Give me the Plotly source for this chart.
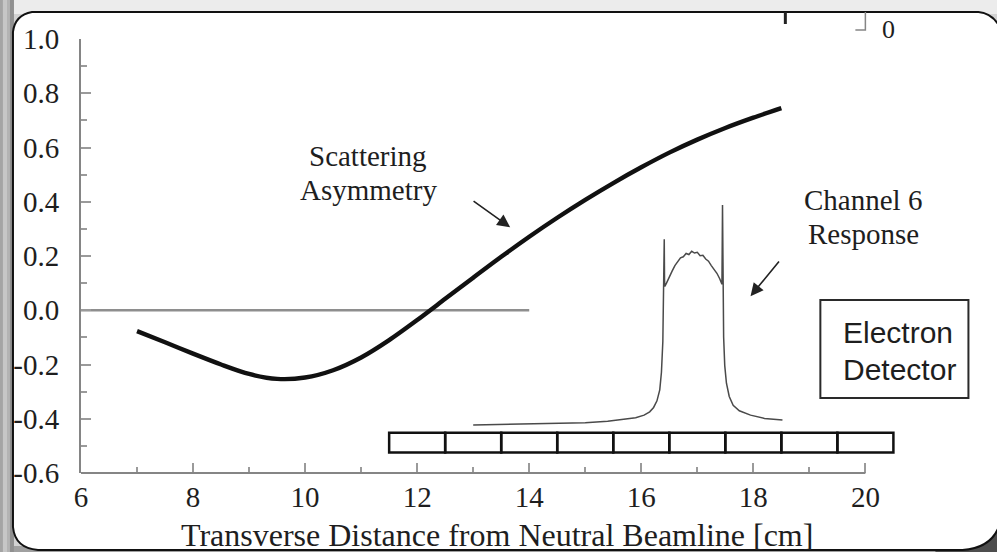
import plotly.graph_objects as go

# ---- data -------------------------------------------------------------
# Scattering asymmetry versus transverse distance (cm)
asym_x = [7.0, 7.5, 8.0, 8.5, 9.0, 9.5, 10.0, 10.5, 11.0, 11.5, 12.0, 12.5,
          13.0, 13.5, 14.0, 14.5, 15.0, 15.5, 16.0, 16.5, 17.0, 17.5, 18.0, 18.5]
asym_y = [-0.077, -0.118, -0.160, -0.200, -0.235, -0.253, -0.248, -0.221,
          -0.174, -0.110, -0.036, 0.042, 0.120, 0.197, 0.271, 0.341, 0.407,
          0.469, 0.527, 0.581, 0.629, 0.672, 0.710, 0.745]

# Channel 6 response (arbitrary units, baseline 0, highest edge peak 1)
resp_x = [13.0, 13.5, 14.0, 14.5, 15.0, 15.4, 15.7, 15.9, 16.05, 16.15, 16.22,
          16.28, 16.33, 16.36, 16.385, 16.40, 16.41, 16.415, 16.42, 16.45, 16.5,
          16.55, 16.6, 16.65, 16.7, 16.75, 16.8, 16.85, 16.9, 16.95, 17.0, 17.05,
          17.1, 17.15, 17.2, 17.25, 17.3, 17.35, 17.4, 17.44, 17.45, 17.455,
          17.46, 17.47, 17.49, 17.52, 17.57, 17.64, 17.75, 17.95, 18.2, 18.52]
resp_y = [0.0, 0.002, 0.004, 0.007, 0.011, 0.017, 0.025, 0.033, 0.045, 0.06, 0.08,
          0.11, 0.16, 0.24, 0.38, 0.58, 0.845, 0.66, 0.63, 0.645, 0.675,
          0.70, 0.725, 0.74, 0.76, 0.765, 0.78, 0.775, 0.79, 0.782, 0.785, 0.77,
          0.772, 0.755, 0.745, 0.725, 0.71, 0.69, 0.665, 0.64, 1.0, 0.62,
          0.52, 0.40, 0.27, 0.19, 0.13, 0.09, 0.065, 0.045, 0.03, 0.023]

# Electron detector channel boundaries (cm)
channel_edges = [11.5, 12.5, 13.5, 14.5, 15.5, 16.5, 17.5, 18.5, 19.5, 20.5]

x_ticks = [6, 8, 10, 12, 14, 16, 18, 20]
x_minor = [7, 9, 11, 13, 15, 17, 19]
y_ticks = [-0.6, -0.4, -0.2, 0.0, 0.2, 0.4, 0.6, 0.8, 1.0]
y_labels = ["-0.6", "-0.4", "-0.2", "0.0", "0.2", "0.4", "0.6", "0.8", "1.0"]
y_minor = [-0.5, -0.3, -0.1, 0.1, 0.3, 0.5, 0.7, 0.9]

# ---- layout geometry ----------------------------------------------------
W, H = 997, 552
ML, MT, MB = 81, 39, 79
X_RANGE = [6, 20.6]
Y_RANGE = [-0.6, 1.0]
PW = 56 * (X_RANGE[1] - X_RANGE[0])
PH = H - MT - MB
MR = W - ML - PW


def px(xp):
    return (xp - ML) / PW


def py(yp):
    return (H - MB - yp) / PH


def P(xp, yp):
    return f"{px(xp):.5f},{py(yp):.5f}"


SERIF = "Liberation Serif, Times New Roman, serif"
SANS = "Liberation Sans, Arial, sans-serif"
INK = "#1e1e1e"
AXIS = "#858585"

fig = go.Figure()

fig.add_trace(go.Scatter(x=[6, 14], y=[0, 0], mode="lines",
                         line=dict(color="#8e8e8e", width=2.5), hoverinfo="skip"))
fig.add_trace(go.Scatter(x=asym_x, y=asym_y, mode="lines",
                         line=dict(color="#111111", width=4.4, shape="spline",
                                   smoothing=0.8), hoverinfo="skip"))
fig.add_trace(go.Scatter(x=resp_x, y=resp_y, yaxis="y2", mode="lines",
                         line=dict(color="#4a4a4a", width=1.5), hoverinfo="skip"))

shapes = []
# page backdrop around the rounded panel
shapes.append(dict(type="rect", xref="paper", yref="paper", layer="below",
                   x0=px(0), x1=px(W), y0=py(0), y1=py(14),
                   fillcolor="#ececec", line=dict(width=0)))
for x0, x1, c in [(0, 3, "#a4a4a4"), (3, 7, "#c6c6c6"), (7, 10, "#b3b3b3"),
                  (10, 14, "#909090")]:
    shapes.append(dict(type="rect", xref="paper", yref="paper", layer="below",
                       x0=px(x0), x1=px(x1), y0=py(0), y1=py(H),
                       fillcolor=c, line=dict(width=0)))
shapes.append(dict(type="rect", xref="paper", yref="paper", layer="below",
                   x0=px(14), x1=px(W), y0=py(546), y1=py(H),
                   fillcolor="#a0a0a0", line=dict(width=0)))
shapes.append(dict(type="rect", xref="paper", yref="paper", layer="below",
                   x0=px(935), x1=px(W), y0=py(505), y1=py(H),
                   fillcolor="#4d4d4d", line=dict(width=0)))
panel = (f"M {P(13,32)} Q {P(15,15)} {P(32,12)} L {P(978,12)} "
         f"Q {P(992,13)} {P(1000,28)} L {P(1000,522)} "
         f"Q {P(993,548)} {P(962,550)} L {P(38,550)} Q {P(15,548)} {P(13,527)} Z")
shapes.append(dict(type="path", xref="paper", yref="paper", layer="below",
                   path=panel, fillcolor="white", line=dict(color="#111111", width=2)))

# x axis line only up to 20 cm
shapes.append(dict(type="line", xref="x", yref="paper", x0=6, x1=20, y0=0, y1=0,
                   line=dict(color=AXIS, width=2)))

# detector channels
for a, b in zip(channel_edges[:-1], channel_edges[1:]):
    shapes.append(dict(type="rect", xref="x", yref="y", x0=a, x1=b,
                       y0=-0.524, y1=-0.452, line=dict(color="#111111", width=2.5)))

# Electron Detector box
shapes.append(dict(type="rect", xref="paper", yref="paper",
                   x0=px(820), x1=px(968), y0=py(398), y1=py(300),
                   line=dict(color="#2a2a2a", width=2)))

# fragments of the neighbouring frame at the top edge
shapes.append(dict(type="line", xref="paper", yref="paper",
                   x0=px(785), x1=px(785), y0=py(12), y1=py(24),
                   line=dict(color="#222222", width=3)))
shapes.append(dict(type="path", xref="paper", yref="paper",
                   path=f"M {P(865,12)} L {P(865,30)} L {P(855,30)}",
                   line=dict(color=AXIS, width=1.5)))


def label(x, y, text, family, size, xanchor="center"):
    return dict(xref="paper", yref="paper", x=px(x), y=py(y), text=text,
                showarrow=False, xanchor=xanchor, yanchor="middle",
                font=dict(family=family, size=size, color=INK))


annotations = [
    label(888, 30, "0", SERIF, 26),
    label(497, 535, "Transverse Distance from Neutral Beamline [cm]", SERIF, 32),
    label(368, 156, "Scattering", SERIF, 29),
    label(368, 190, "Asymmetry", SERIF, 29),
    label(863, 200, "Channel 6", SERIF, 29),
    label(863, 234, "Response", SERIF, 29),
    label(841, 332, "Electron", SANS, 30, xanchor="left"),
    label(841, 369, "Detector", SANS, 30, xanchor="left"),
]
# arrows
annotations.append(dict(xref="x", yref="y", axref="x", ayref="y",
                        x=13.66, y=0.306, ax=12.98, ay=0.406, text="",
                        showarrow=True, arrowhead=2, arrowsize=1.6,
                        arrowwidth=1.6, arrowcolor="#222222", standoff=0))
annotations.append(dict(xref="x", yref="y", axref="x", ayref="y",
                        x=17.95, y=0.052, ax=18.48, ay=0.185, text="",
                        showarrow=True, arrowhead=2, arrowsize=1.6,
                        arrowwidth=1.6, arrowcolor="#222222", standoff=0))

fig.update_layout(
    width=W, height=H,
    margin=dict(l=ML, r=MR, t=MT, b=MB, pad=0),
    paper_bgcolor="#d2d2d2",
    plot_bgcolor="rgba(0,0,0,0)",
    showlegend=False,
    shapes=shapes,
    annotations=annotations,
    xaxis=dict(range=X_RANGE, showgrid=False, zeroline=False, showline=False,
               automargin=False, tickmode="array", tickvals=x_ticks,
               ticks="inside", ticklen=10, tickwidth=1.5, tickcolor="#9a9a9a",
               ticklabelstandoff=4,
               tickfont=dict(family=SERIF, size=29, color=INK),
               minor=dict(tickmode="array", tickvals=x_minor, ticks="inside",
                          ticklen=6, tickwidth=1.5, tickcolor="#9a9a9a")),
    yaxis=dict(range=Y_RANGE, showgrid=False, zeroline=False, showline=True,
               linecolor=AXIS, linewidth=2, automargin=False,
               tickmode="array", tickvals=y_ticks, ticktext=y_labels,
               ticks="inside", ticklen=10, tickwidth=1.5, tickcolor="#9a9a9a",
               ticklabelstandoff=14,
               tickfont=dict(family=SERIF, size=29, color=INK),
               minor=dict(tickmode="array", tickvals=y_minor, ticks="inside",
                          ticklen=6, tickwidth=1.5, tickcolor="#9a9a9a")),
    yaxis2=dict(overlaying="y", range=[-0.218, 1.755], visible=False),
)

fig.write_html("out.html")
